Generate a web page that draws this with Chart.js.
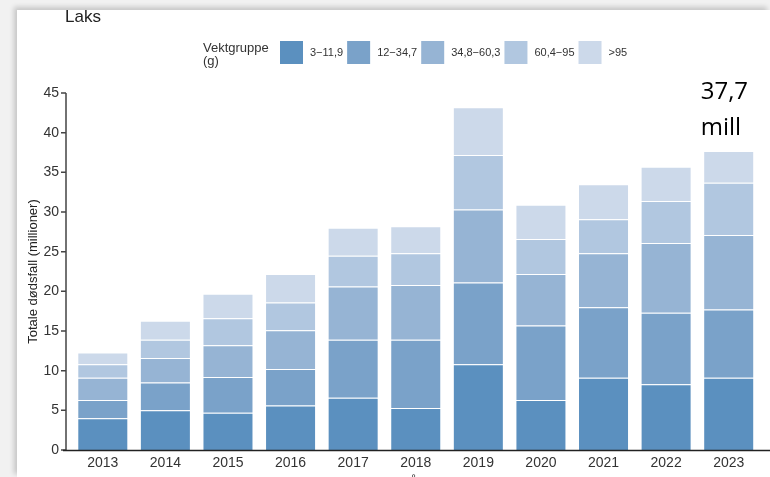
<!DOCTYPE html>
<html>
<head>
<meta charset="utf-8">
<script src="https://cdn.jsdelivr.net/npm/chart.js@4"></script>
<style>
  html, body { margin: 0; padding: 0; background: #f1f1f1; }
  #panel { position: absolute; left: 17px; top: 10px; width: 753px; height: 467px; background: #fff;
           box-shadow: -3px -3px 5px rgba(0,0,0,0.18); }
  #wrap { position: absolute; left: 0; top: 0; width: 770px; height: 477px; }
</style>
</head>
<body>
<div id="panel"></div>
<div id="wrap"><canvas id="chart"></canvas></div>
<script>
const years = ['2013', '2014', '2015', '2016', '2017', '2018', '2019', '2020', '2021', '2022', '2023'];
const groupNames = ['3\u221211,9', '12\u221234,7', '34,8\u221260,3', '60,4\u221295', '>95'];
const g3to12 = [4.0, 5.0, 4.7, 5.6, 6.6, 5.3, 10.8, 6.3, 9.1, 8.3, 9.1];
const g12to35 = [2.3, 3.5, 4.5, 4.6, 7.3, 8.6, 10.3, 9.4, 8.9, 9.0, 8.6];
const g35to60 = [2.8, 3.1, 4.0, 4.9, 6.7, 6.9, 9.2, 6.5, 6.8, 8.8, 9.4];
const g60to95 = [1.7, 2.3, 3.4, 3.5, 3.9, 4.0, 6.9, 4.4, 4.3, 5.3, 6.6];
const gOver95 = [1.5, 2.4, 3.1, 3.6, 3.5, 3.4, 6.0, 4.3, 4.4, 4.3, 4.0];
const yTicks = [0, 5, 10, 15, 20, 25, 30, 35, 40, 45];

const colors = ['#5b90bf', '#7aa2c9', '#96b4d4', '#b1c7e0', '#ccd9ea'];
const series = [g3to12, g12to35, g35to60, g60to95, gOver95];

Chart.defaults.font.family = '"Liberation Sans", Arial, sans-serif';
Chart.defaults.color = '#333';

// axis lines, legend, title and the annotation
const extras = {
    id: 'extras',
    afterDraw(chart) {
        const ctx = chart.ctx;
        const area = chart.chartArea;
        const y = chart.scales.y;
        const x = chart.scales.x;
        ctx.save();

        // y axis line + ticks
        const axX = area.left - 5.5;
        ctx.strokeStyle = '#444';
        ctx.lineWidth = 1.5;
        ctx.beginPath();
        ctx.moveTo(axX, y.getPixelForValue(yTicks[yTicks.length - 1]));
        ctx.lineTo(axX, y.getPixelForValue(0));
        yTicks.forEach(v => {
            const py = y.getPixelForValue(v);
            ctx.moveTo(axX - 5, py);
            ctx.lineTo(axX, py);
        });
        ctx.stroke();

        // x axis line
        ctx.strokeStyle = '#222';
        ctx.beginPath();
        ctx.moveTo(axX - 3, area.bottom + 0.5);
        ctx.lineTo(chart.width, area.bottom + 0.5);
        ctx.stroke();

        // title
        ctx.fillStyle = '#222';
        ctx.font = '17px "Liberation Sans", Arial, sans-serif';
        ctx.textAlign = 'left';
        ctx.textBaseline = 'alphabetic';
        ctx.fillText('Laks', 65, 22);

        // x axis title (mostly cut off)
        ctx.font = '13px "Liberation Sans", Arial, sans-serif';
        ctx.textAlign = 'center';
        ctx.fillStyle = '#333';
        ctx.fillText('År', (area.left + area.right) / 2, 486);

        // legend
        ctx.textAlign = 'left';
        ctx.font = '13px "Liberation Sans", Arial, sans-serif';
        ctx.fillStyle = '#333';
        ctx.fillText('Vektgruppe', 203, 52);
        ctx.fillText('(g)', 203, 65);
        ctx.font = '11px "Liberation Sans", Arial, sans-serif';
        ctx.textBaseline = 'middle';
        let lx = 280;
        chart.data.datasets.forEach(ds => {
            ctx.fillStyle = ds.backgroundColor;
            ctx.fillRect(lx, 41, 23, 23);
            ctx.fillStyle = '#333';
            ctx.fillText(ds.label, lx + 30, 53);
            lx += 30 + ctx.measureText(ds.label).width + 4;
        });

        // total for last year
        const last = years.length - 1;
        const total = series.reduce((s, arr) => s + arr[last], 0);
        const cx = x.getPixelForValue(last);
        const top = y.getPixelForValue(total);
        ctx.fillStyle = '#000';
        ctx.font = '24px "Open Sans", sans-serif';
        ctx.textBaseline = 'alphabetic';
        ctx.fillText(total.toFixed(1).replace('.', ','), cx - 28, top - 52);
        ctx.fillText('mill', cx - 28, top - 16);
        ctx.restore();
    }
};

const ctx = document.getElementById('chart').getContext('2d');
new Chart(ctx, {
    type: 'bar',
    data: {
        labels: years,
        datasets: series.map((data, i) => ({
            label: groupNames[i],
            data: data,
            backgroundColor: colors[i],
            borderColor: 'rgba(255,255,255,0.15)',
            borderWidth: 1,
            barPercentage: 0.815,
            categoryPercentage: 1
        }))
    },
    options: {
        responsive: true,
        maintainAspectRatio: false,
        animation: false,
        layout: { padding: { top: 93, left: 0, right: 10, bottom: 0 } },
        plugins: {
            legend: { display: false },
            tooltip: { enabled: false }
        },
        scales: {
            x: {
                stacked: true,
                grid: { display: false, drawTicks: false },
                border: { display: false },
                ticks: { color: '#333', padding: 5, font: { size: 14 } },
                afterFit: scale => { scale.height = 27; }
            },
            y: {
                stacked: true,
                min: 0,
                max: 45,
                grid: { display: false, drawTicks: false },
                border: { display: false },
                ticks: { stepSize: 5, color: '#333', padding: 12.5, font: { size: 14 } },
                title: {
                    display: true,
                    text: 'Totale dødsfall (millioner)',
                    color: '#222',
                    font: { size: 13 },
                    padding: { top: 26, bottom: 0 }
                },
                afterFit: scale => { scale.width = 71.5; }
            }
        }
    },
    plugins: [extras]
});
</script>
</body>
</html>
